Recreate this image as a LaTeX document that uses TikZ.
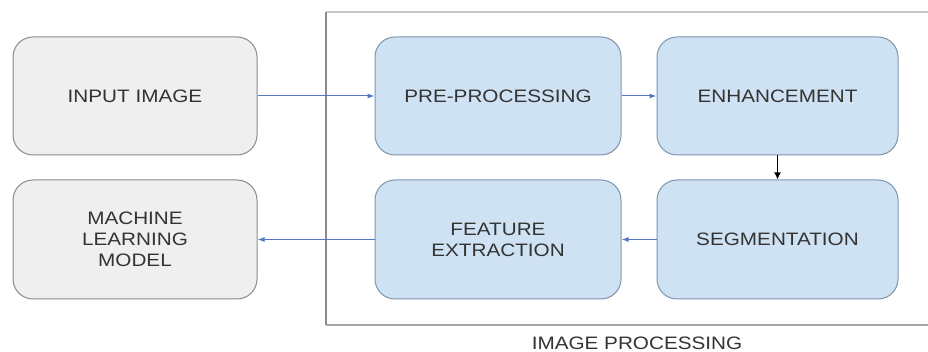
\documentclass[tikz,border=0pt]{standalone}
\usepackage{fontspec}
\setmainfont{Liberation Sans}[FakeStretch=1.15]
\usetikzlibrary{arrows.meta}
\definecolor{grayfill}{HTML}{EFEFEF}
\definecolor{grayline}{HTML}{8A8A8A}
\definecolor{bluefill}{HTML}{CFE2F3}
\definecolor{blueline}{HTML}{7E95AE}
\definecolor{arrowblue}{HTML}{5577C2}
\definecolor{txt}{HTML}{333333}
\tikzset{
  procbox/.style={rectangle, rounded corners=20pt, line width=1pt, align=center,
    text=txt, font=\fontsize{18}{21}\selectfont, inner sep=0pt},
  graybox/.style={procbox, fill=grayfill, draw=grayline},
  bluebox/.style={procbox, fill=bluefill, draw=blueline},
  bluearrow/.style={draw=arrowblue, line width=1pt, -{Latex[length=7pt,width=5pt]}},
  blackarrow/.style={draw=black, line width=1.4pt, -{Latex[length=7pt,width=7pt]}},
}
\begin{document}
\begin{tikzpicture}[x=1pt,y=-1pt]
\useasboundingbox (0,0) rectangle (928,352);
% image processing frame (open on the right)
\coordinate (ft) at (928,12);
\coordinate (ftl) at (326,12);
\coordinate (fbl) at (326,325);
\coordinate (fb) at (928,325);
\draw[color=black!22, line width=1.2pt] (ftl) -- (ft);
\draw[color=grayline, line width=1.2pt] (ftl) -- (fbl);
\draw[color=black!35, line width=1.2pt] (fbl) -- (fb);
\node[text=txt, font=\fontsize{18}{21}\selectfont] (lbl) at (637,343) {IMAGE PROCESSING};
% boxes
\node[graybox, minimum width=244pt, minimum height=118pt] (in) at (135,96) {INPUT IMAGE};
\node[bluebox, minimum width=246pt, minimum height=118pt] (pre) at (498,96) {PRE-PROCESSING};
\node[bluebox, minimum width=241pt, minimum height=118pt] (enh) at (777.5,96) {ENHANCEMENT};
\node[graybox, minimum width=244pt, minimum height=119pt] (ml) at (135,239.5) {MACHINE\\LEARNING\\MODEL};
\node[bluebox, minimum width=246pt, minimum height=119pt] (fe) at (498,239.5) {FEATURE\\EXTRACTION};
\node[bluebox, minimum width=241pt, minimum height=119pt] (seg) at (777.5,239.5) {SEGMENTATION};
% connectors
\draw[bluearrow] (in) -- (pre);
\draw[bluearrow] (pre) -- (enh);
\draw[blackarrow] (enh) -- (seg);
\draw[bluearrow] (seg) -- (fe);
\draw[bluearrow] (fe) -- (ml);
\end{tikzpicture}
\end{document}
